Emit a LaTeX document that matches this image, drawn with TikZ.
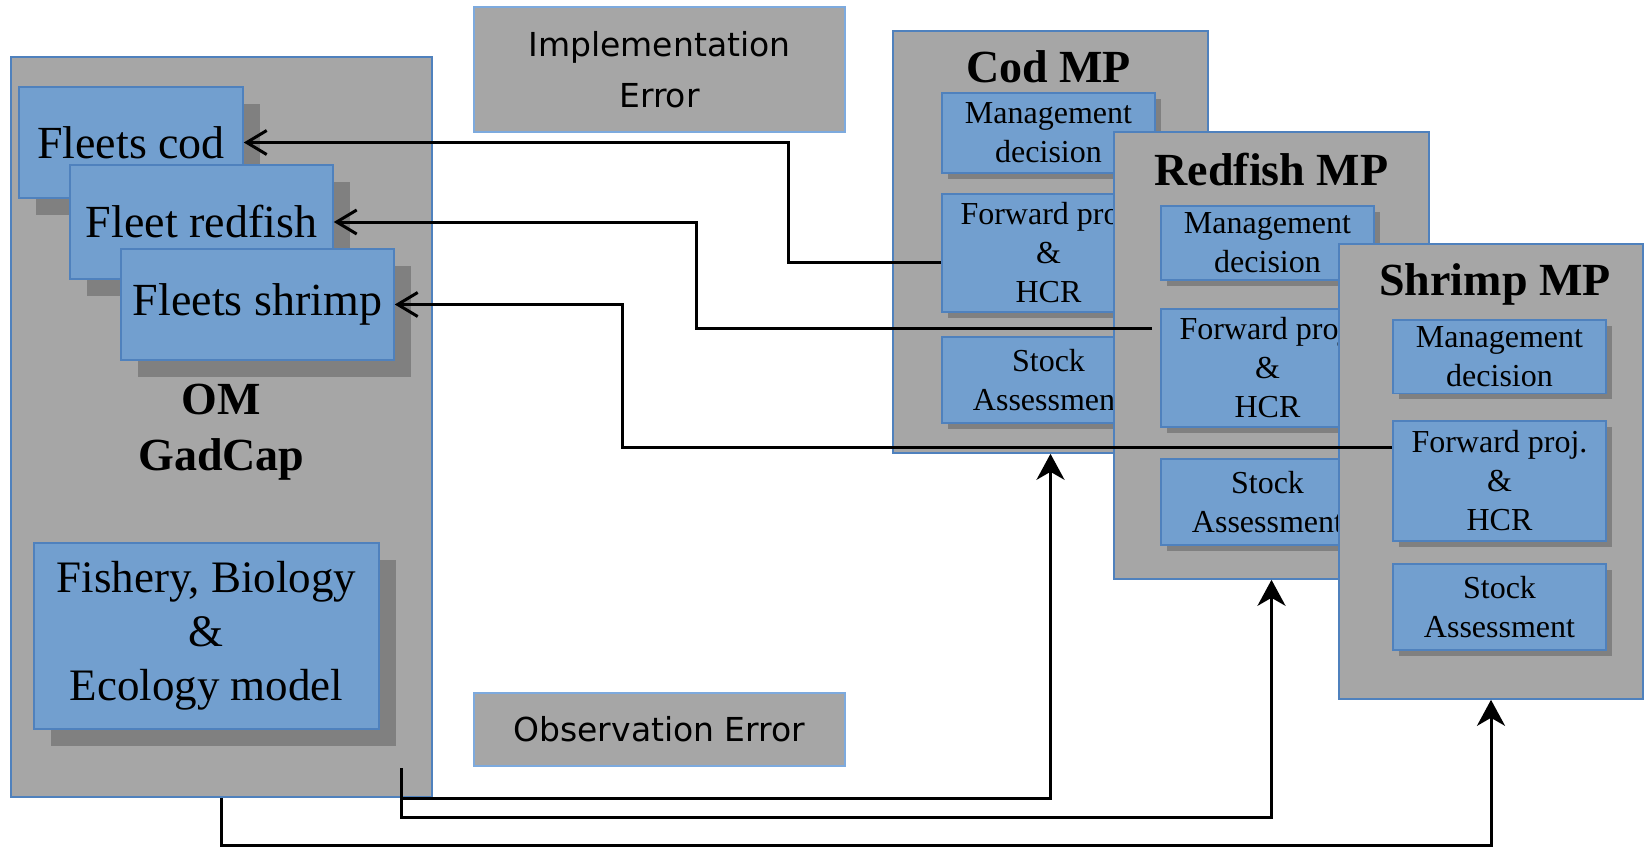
\documentclass[tikz,border=0pt]{standalone}
\usepackage{fontspec}
\setmainfont{Liberation Serif}
\newfontfamily\errfont{DejaVu Sans}
\usepackage{tikz}
\usetikzlibrary{arrows.meta,shadows,positioning,calc}

\definecolor{boxgray}{RGB}{166,166,166}
\definecolor{boxblue}{RGB}{114,159,207}
\definecolor{edgeblue}{RGB}{79,129,189}
\definecolor{lightedge}{RGB}{125,170,222}
\definecolor{shadowgray}{RGB}{128,128,128}

\begin{document}
\begin{tikzpicture}[x=0.5pt,y=-0.5pt,>={Stealth[length=13pt,width=14pt,inset=4pt]}]
\tikzstyle{panel}=[draw=edgeblue,fill=boxgray,line width=0.8pt]
\tikzstyle{fleet}=[draw=edgeblue,fill=boxblue,line width=0.8pt,align=center,font=\fontsize{23}{28}\selectfont,
  drop shadow={shadow xshift=8.5pt,shadow yshift=-8.5pt,fill=shadowgray,opacity=1}]
\tikzstyle{inbox}=[draw=edgeblue,fill=boxblue,line width=0.8pt,minimum width=106.5pt,align=center,
  font=\fontsize{16}{19.5}\selectfont,drop shadow={shadow xshift=3pt,shadow yshift=-3pt,fill=shadowgray,opacity=1}]
\tikzstyle{title}=[font=\fontsize{23}{28}\selectfont\bfseries,align=center]
\tikzstyle{errbox}=[draw=lightedge,fill=boxgray,line width=0.8pt,minimum width=185.5pt,align=center,
  font=\errfont\fontsize{16.5}{25.5}\selectfont]
\tikzstyle{feed}=[->,line width=1.5pt]
\tikzstyle{ctrl}=[-{Straight Barb[length=10pt,width=12pt]},line width=1.5pt]
\useasboundingbox (0,0) rectangle (1645,848);

% operating model
\node[panel,minimum width=210.5pt,minimum height=370pt] (OM) at (221.5,427) {};
\node[fleet,minimum width=112pt,minimum height=55.5pt] (FC) at (131,142.5) {Fleets cod};
\node[fleet,minimum width=131.5pt,minimum height=57pt] (FR) at (201.5,222) {Fleet redfish};
\node[fleet,minimum width=136.5pt,minimum height=55.5pt] (FS) at (257.5,304.5) {Fleets shrimp};
\node[title] (OMt) at (221.5,432) {OM\\GadCap};
\node[fleet,minimum width=172.5pt,minimum height=93pt,font=\fontsize{22.5}{27}\selectfont] (Eco) at (206.5,636)
  {Fishery, Biology\\\&\\Ecology model};

% error boxes
\node[errbox,minimum height=62.5pt] (IE) at (659.5,69.5) {Implementation\\Error};
\node[errbox,minimum height=36.5pt] (OE) at (659.5,729.5) {Observation Error};

% cod MP
\node[panel,minimum width=157.5pt,minimum height=211pt] (Cod) at (1050.5,242) {};
\node[title,anchor=base] (CodT) at (1048.5,82) {Cod MP};
\node[inbox,minimum height=40pt] (CodM) at (1048.5,133) {Management\\decision};
\node[inbox,minimum height=59pt] (CodF) at (1048.5,253) {Forward proj.\\\&\\HCR};
\node[inbox,minimum height=43pt] (CodS) at (1048.5,380) {Stock\\Assessment};

% redfish MP
\node[panel,minimum width=157.5pt,minimum height=223.5pt] (Red) at (1271.5,355.5) {};
\node[title,anchor=base] (RedT) at (1271.5,185) {Redfish MP};
\node[inbox,minimum height=36pt] (RedM) at (1267.5,243) {Management\\decision};
\node[inbox,minimum height=59pt] (RedF) at (1267.5,368) {Forward proj.\\\&\\HCR};
\node[inbox,minimum height=43pt] (RedS) at (1267.5,502) {Stock\\Assessment};

% shrimp MP
\node[panel,minimum width=152pt,minimum height=227.5pt] (Shr) at (1491,471.5) {};
\node[title,anchor=base] (ShrT) at (1495,295) {Shrimp MP};
\node[inbox,minimum height=36.5pt] (ShrM) at (1499.5,356.5) {Management\\decision};
\node[inbox,minimum height=60pt] (ShrF) at (1499.5,481) {Forward proj.\\\&\\HCR};
\node[inbox,minimum height=43pt] (ShrS) at (1499.5,607) {Stock\\Assessment};

% catches back to the fleets
\draw[ctrl] ([yshift=-4.5pt]CodF.west) -- ++(-153,0) |- (FC.east);
\draw[ctrl] ([xshift=-4pt,yshift=20pt]RedF.west) -- ++(-456,0) |- (FR.east);
\draw[ctrl] ([yshift=17pt]ShrF.west) -- ++(-770,0) |- (FS.east);

% data to the assessments
\coordinate (tap) at (401,768);
\draw[feed] (tap) -- ++(0,30) -| (Cod.south);
\draw[feed] (tap) -- ++(0,49) -| (Red.south);
\draw[feed] (OM.south) -- ++(0,48) -| (Shr.south);
\end{tikzpicture}
\end{document}
